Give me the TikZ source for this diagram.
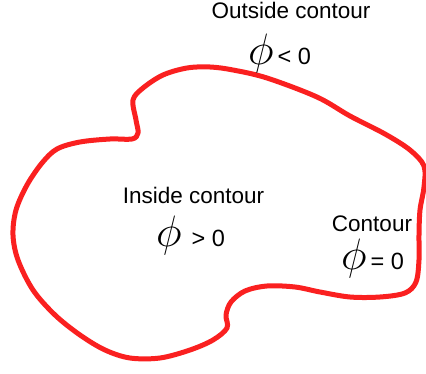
\RequirePackage{fix-cm}
\documentclass[tikz,border=0pt]{standalone}
\usepackage{fontspec}
\setmainfont{Liberation Sans}
\definecolor{contourred}{RGB}{250,32,32}
\begin{document}
\begin{tikzpicture}[
  x=1pt, y=-1pt,
  lbl/.style={font=\fontsize{22.5}{24}\selectfont, inner sep=0pt, anchor=base},
  eq/.style={font=\fontsize{23.5}{24}\selectfont, inner sep=0pt, anchor=base west},
  bnd/.style={draw=contourred, line width=5pt, line join=round}
]
  \newcommand{\bigphi}{{\fontsize{44}{44}\selectfont$\phi$}}
  \useasboundingbox (0,0) rectangle (426,374);
  %% --- Contour ---
  \draw[bnd] plot[smooth cycle, tension=0.55] coordinates {
    (133,100) (143,88) (163,75) (187,68) (210,67) (233,70) (267,78)
    (317,97) (350,116) (385,134) (410,150) (424,166) (424,187)
    (420,210) (419,235) (419,260) (416,282) (405,293) (380,297)
    (350,297) (320,292) (295,287) (267,286) (245,291) (231,302)
    (226,315) (227,328) (213,340) (190,350) (160,358) (130,358)
    (105,350) (80,335) (55,315) (33,290) (18,260) (13,235) (16,210)
    (27,185) (42,163) (57,149) (80,142) (110,139) (132,139)
    (138,133) (136,120)};
  %% --- Labels ---
  \node[lbl] (outlbl) at (291,19) {Outside contour};
  \node[eq]  (outeq)  at (248,65) {\bigphi\,< 0};
  \node[lbl] (inlbl)  at (193.5,204) {Inside contour};
  \node[eq]  (ineq)   at (156,247) {\bigphi\hspace{10pt}> 0};
  \node[lbl] (onlbl)  at (372,232) {Contour};
  \node[eq]  (oneq)   at (341,270) {\bigphi\,= 0};
\end{tikzpicture}
\end{document}
